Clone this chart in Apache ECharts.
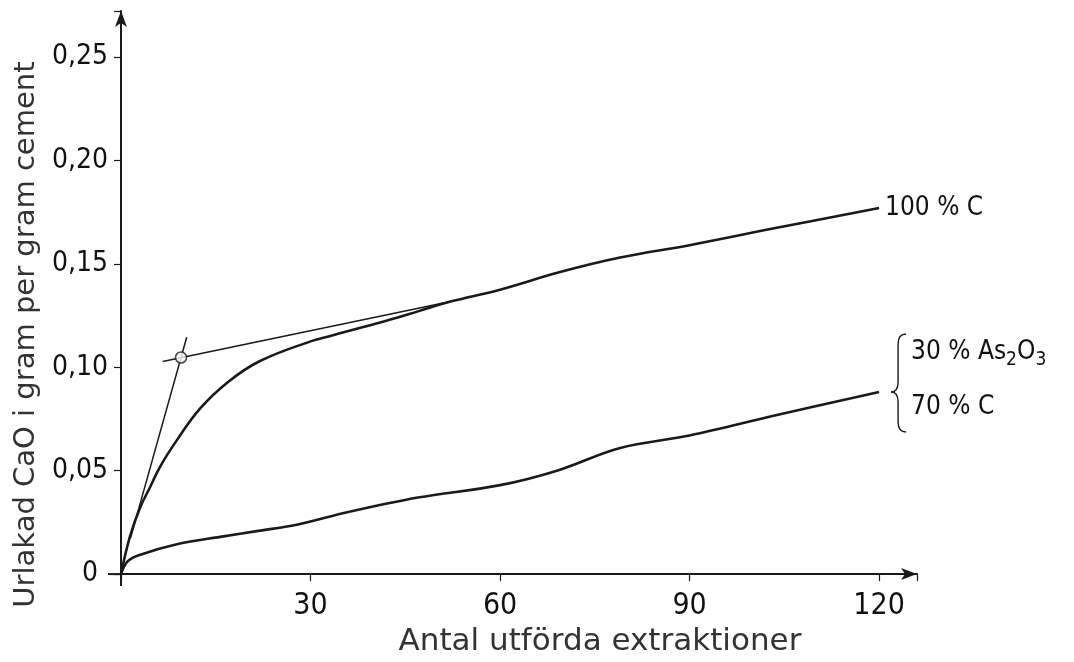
<!DOCTYPE html>
<html><head><meta charset="utf-8">
<script src="https://cdn.jsdelivr.net/npm/echarts@6/dist/echarts.min.js"></script>
<style>html,body{margin:0;padding:0;background:#fff}#c{width:1074px;height:662px}</style>
</head><body><div id="c"></div>
<script>
// 100 % C
const xC = [0, 1.4, 3, 4.6, 6.2, 8.9, 12.5, 17, 22, 30, 33, 36, 42, 47, 52, 60, 69.5, 79, 90, 104, 120];
const yC = [0, 0.018, 0.032, 0.042, 0.052, 0.065, 0.080, 0.093, 0.103, 0.1125, 0.115, 0.1175, 0.1225, 0.127, 0.1316, 0.1375, 0.146, 0.153, 0.159, 0.1675, 0.177];
// 30 % As2O3 / 70 % C
const xM = [0, 1, 2.7, 9, 15.7, 22, 28, 36, 47, 60, 69, 79, 90, 104, 120];
const yM = [0, 0.006, 0.009, 0.0145, 0.018, 0.021, 0.024, 0.030, 0.037, 0.043, 0.050, 0.061, 0.067, 0.077, 0.088];
// construction lines
const tanFlatX = [6.6, 52];
const tanFlatY = [0.1028, 0.1316];
const tanSteepX = [1.5, 10.4];
const tanSteepY = [0.0174, 0.1145];
const markX = [9.5];
const markY = [0.1047];
const xTicks = [30, 60, 90, 120];
const yTicks = [0, 0.05, 0.10, 0.15, 0.20, 0.25];
const labelC = '100 % C';
const labelM1 = ['30 % As', '2', 'O', '3'];
const labelM2 = '70 % C';
const xName = 'Antal utförda extraktioner';
const yName = 'Urlakad CaO i gram per gram cement';

const zip = (a, b) => a.map((v, i) => [v, b[i]]);
const tickFont = "'Liberation Sans Narrow', 'DejaVu Sans Condensed', sans-serif";
const titleFont = "'DejaVu Sans', sans-serif";
const ink = '#1a1a1a';

const chart = echarts.init(document.getElementById('c'), null, {renderer: 'canvas'});
chart.setOption({
  backgroundColor: '#fff',
  animation: false,
  grid: {left: 121, right: 157, top: 11, bottom: 87},
  xAxis: {
    type: 'value', min: 0, max: 126, interval: 30,
    splitLine: {show: false},
    axisLine: {lineStyle: {color: ink, width: 2}, symbol: ['none', 'arrow'], symbolSize: [9, 16]},
    axisTick: {show: true, length: 7, lineStyle: {color: ink, width: 1.2}},
    axisLabel: {
      margin: 17, color: '#111', fontSize: 30, fontFamily: tickFont,
      formatter: v => xTicks.includes(v) ? String(v) : ''
    },
    name: xName, nameLocation: 'middle', nameGap: 50,
    nameTextStyle: {fontSize: 31, fontFamily: titleFont, color: '#333', padding: [0, 0, 0, 162]}
  },
  yAxis: {
    type: 'value', min: 0, max: 0.2722, interval: 0.05,
    splitLine: {show: false},
    axisLine: {lineStyle: {color: ink, width: 2}, symbol: ['none', 'arrow'], symbolSize: [9, 16]},
    axisTick: {show: true, length: 7, lineStyle: {color: ink, width: 1.2}},
    axisLabel: {
      margin: 13, color: '#111', fontSize: 28, fontFamily: tickFont,
      formatter: v => {
        const t = yTicks.find(k => Math.abs(k - v) < 1e-9);
        if (t === undefined) return '';
        return t === 0 ? '{z|0}' : t.toFixed(2).replace('.', ',');
      },
      rich: {z: {fontSize: 28, fontFamily: tickFont, color: '#111', padding: [0, 10, 0, 0]}}
    },
    name: yName, nameLocation: 'middle', nameGap: 72, nameRotate: 90,
    nameTextStyle: {fontSize: 29, fontFamily: titleFont, color: '#333', padding: [0, 84, 0, 0]}
  },
  series: [
    {
      type: 'line', data: zip(xC, yC), smooth: 0.4, symbol: 'none',
      lineStyle: {color: ink, width: 2.6},
      endLabel: {show: true, formatter: labelC, distance: 6, color: '#111', fontSize: 26, fontFamily: tickFont}
    },
    {
      type: 'line', data: zip(xM, yM), smooth: 0.35, symbol: 'none',
      lineStyle: {color: ink, width: 2.6},
      endLabel: {
        show: true, distance: 32, offset: [0, -12],
        formatter: '{a|' + labelM1[0] + '}{s|' + labelM1[1] + '}{a|' + labelM1[2] + '}{s|' + labelM1[3] + '}\n{a|' + labelM2 + '}',
        rich: {
          a: {fontSize: 26, fontFamily: tickFont, color: '#111', lineHeight: 55},
          s: {fontSize: 19, fontFamily: tickFont, color: '#111', lineHeight: 55, padding: [16, 0, 0, 0]}
        }
      }
    },
    {type: 'line', data: zip(tanFlatX, tanFlatY), symbol: 'none', lineStyle: {color: ink, width: 1.5}},
    {type: 'line', data: zip(tanSteepX, tanSteepY), symbol: 'none', lineStyle: {color: ink, width: 1.5}},
    {type: 'scatter', data: zip(markX, markY), symbol: 'circle', symbolSize: 11, z: 5,
     itemStyle: {color: '#fff', borderColor: ink, borderWidth: 1.6}}
  ]
});

// curly brace in front of the lower label, anchored to the end of the lower curve
const endPt = chart.convertToPixel({gridIndex: 0}, [xM[xM.length - 1], yM[yM.length - 1]]);
const org = chart.convertToPixel({gridIndex: 0}, [0, 0]);
const bx = endPt[0] + 19, by = endPt[1];
const st = {stroke: ink, lineWidth: 1.4, fill: null};
const axSt = {stroke: ink, lineWidth: 2, fill: null};
const bez = (x1, y1, cx, cy, x2, y2) => ({type: 'bezierCurve', shape: {x1, y1, cpx1: cx, cpy1: cy, x2, y2}, style: st});
const seg = (x1, y1, x2, y2, s) => ({type: 'line', shape: {x1, y1, x2, y2}, style: s || st});
chart.setOption({
  graphic: [{
    type: 'group',
    children: [
      bez(bx + 8, by - 58, bx, by - 58, bx, by - 48),
      seg(bx, by - 48, bx, by - 10),
      bez(bx, by - 10, bx, by, bx - 7, by),
      bez(bx - 7, by, bx, by, bx, by + 10),
      seg(bx, by + 10, bx, by + 30),
      bez(bx, by + 30, bx, by + 40, bx + 8, by + 40),
      // short overhang of both axes past the origin
      seg(org[0] - 13, org[1], org[0], org[1], axSt),
      seg(org[0], org[1], org[0], org[1] + 12, axSt)
    ]
  }]
});
</script>
</body></html>
